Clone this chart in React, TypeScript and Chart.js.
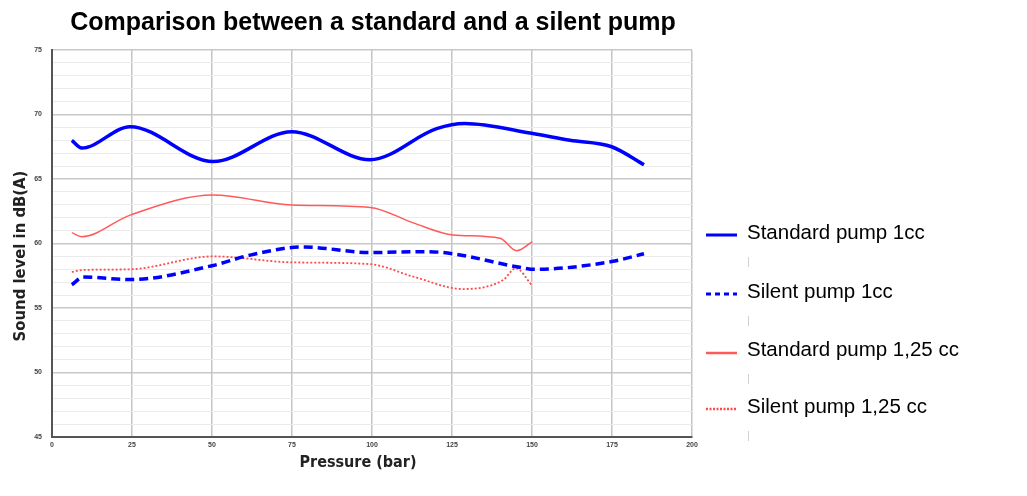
import React, { useEffect, useRef } from "react";
import { Chart, registerables } from "chart.js";

Chart.register(...registerables);

const chartTitle = "Comparison between a standard and a silent pump";
const xTitle = "Pressure (bar)";
const yTitle = "Sound level in dB(A)";

const seriesNames = [
  "Standard pump 1cc",
  "Silent pump 1cc",
  "Standard pump 1,25 cc",
  "Silent pump 1,25 cc",
];

const std1X = [6.2, 9.3, 24.4, 50.4, 74.9, 99.4, 120.2, 129, 149.9, 161.9, 174.9, 185];
const std1Y = [68.0, 67.4, 69.05, 66.35, 68.67, 66.5, 68.9, 69.3, 68.54, 68.0, 67.5, 66.1];

const sil1X = [6.2, 9.8, 24.4, 50.4, 61.9, 78.5, 99.4, 117, 125.4, 145.2, 150.9, 174.9, 185];
const sil1Y = [56.8, 57.4, 57.2, 58.3, 59.1, 59.73, 59.3, 59.37, 59.2, 58.2, 58.0, 58.6, 59.2];

const std125X = [6.2, 9.3, 24.4, 50.4, 74.9, 99.4, 112.9, 125.4, 140, 145.2, 150.1];
const std125Y = [60.84, 60.53, 62.2, 63.76, 62.98, 62.8, 61.6, 60.66, 60.4, 59.44, 60.14];

const sil125X = [6.2, 9.8, 24.4, 50.4, 74.9, 99.4, 112.9, 128.5, 141, 144.9, 150.1];
const sil125Y = [57.8, 57.95, 58.0, 59.0, 58.54, 58.4, 57.43, 56.47, 57.17, 58.08, 56.73];

const xMin = 0;
const xMax = 200;
const xStep = 25;
const yMin = 45;
const yMax = 75;

const toPoints = (xs: number[], ys: number[]) => xs.map((x, i) => ({ x, y: ys[i] }));

const colors = ["#0000ff", "#0000ff", "#ff5a5a", "#ff4a4a"];
const widths = [3.5, 3.5, 1.5, 1.8];
const dashes: number[][] = [[], [9, 5], [], [2, 2]];

const overlayPlugin = {
  id: "overlay",
  afterDraw(chart: any) {
    const ctx = chart.ctx as CanvasRenderingContext2D;
    const area = chart.chartArea;
    ctx.save();
    // title
    ctx.fillStyle = "#000";
    ctx.font = "bold 25px 'Liberation Sans', Arial, sans-serif";
    ctx.textAlign = "center";
    ctx.textBaseline = "middle";
    ctx.fillText(chartTitle, (area.left + area.right) / 2 + 1, 23);
    // x title
    ctx.fillStyle = "#222";
    ctx.font = "bold 16px 'DejaVu Sans Condensed', 'Liberation Sans', sans-serif";
    ctx.fillText(xTitle, 358, 463);
    // y title
    ctx.save();
    ctx.translate(21, 256);
    ctx.rotate(-Math.PI / 2);
    ctx.font = "bold 16.5px 'DejaVu Sans Condensed', 'Liberation Sans', sans-serif";
    ctx.fillText(yTitle, 0, 0);
    ctx.restore();
    // legend
    const lineY = [235, 294, 353, 409];
    const textY = [233, 292, 350, 407];
    ctx.textAlign = "left";
    ctx.font = "20.5px 'Liberation Sans', Arial, sans-serif";
    for (let i = 0; i < seriesNames.length; i++) {
      ctx.save();
      ctx.strokeStyle = colors[i];
      ctx.lineWidth = i < 2 ? 3 : 2.5;
      ctx.setLineDash(i === 1 ? [5, 4] : i === 3 ? [2, 1.5] : []);
      ctx.beginPath();
      ctx.moveTo(706, lineY[i]);
      ctx.lineTo(737, lineY[i]);
      ctx.stroke();
      ctx.restore();
      ctx.fillStyle = "#000";
      ctx.fillText(seriesNames[i], 747, textY[i]);
      ctx.strokeStyle = "#d0d0d0";
      ctx.lineWidth = 1;
      ctx.beginPath();
      ctx.moveTo(748.5, textY[i] + 24);
      ctx.lineTo(748.5, textY[i] + 34);
      ctx.stroke();
    }
    ctx.restore();
  },
};

export default function App() {
  const ref = useRef<HTMLCanvasElement | null>(null);
  useEffect(() => {
    if (!ref.current) return;
    const datasets = [
      toPoints(std1X, std1Y),
      toPoints(sil1X, sil1Y),
      toPoints(std125X, std125Y),
      toPoints(sil125X, sil125Y),
    ].map((data, i) => ({
      label: seriesNames[i],
      data,
      borderColor: colors[i],
      backgroundColor: colors[i],
      borderWidth: widths[i],
      borderDash: dashes[i],
      pointRadius: 0,
      fill: false,
      cubicInterpolationMode: "monotone" as const,
    }));
    const chart = new Chart(ref.current, {
      type: "line",
      data: { datasets },
      options: {
        animation: false,
        responsive: false,
        layout: { padding: { left: 0, top: 50, right: 335, bottom: 0 } },
        plugins: { legend: { display: false }, title: { display: false }, tooltip: { enabled: false } },
        scales: {
          x: {
            type: "linear",
            min: xMin,
            max: xMax,
            afterFit(scale: any) {
              scale.height = 59;
            },
            ticks: {
              stepSize: xStep,
              color: "#444",
              font: { size: 7, weight: "bold", family: "'Liberation Sans', sans-serif" },
              padding: 4,
              maxRotation: 0,
              autoSkip: false,
            },
            grid: {
              drawTicks: false,
              color: "#c4c4c4",
              lineWidth: 1.5,
            },
            border: { color: "#555", width: 2 },
          },
          y: {
            type: "linear",
            min: yMin,
            max: yMax,
            afterFit(scale: any) {
              scale.width = 52;
            },
            ticks: {
              stepSize: 1,
              autoSkip: false,
              color: "#444",
              font: { size: 7, weight: "bold", family: "'Liberation Sans', sans-serif" },
              padding: 10,
              callback: (v: any) => (Number(v) % 5 === 0 ? String(v) : ""),
            },
            grid: {
              drawTicks: false,
              color: (c: any) => (c.tick && c.tick.value % 5 === 0 ? "#c8c8c8" : "#ebebeb"),
              lineWidth: (c: any) => (c.tick && c.tick.value % 5 === 0 ? 1.5 : 1),
            },
            border: { color: "#555", width: 2 },
          },
        },
      },
      plugins: [overlayPlugin],
    });
    return () => chart.destroy();
  }, []);
  return (
    <div style={{ position: "fixed", left: 0, top: 0, width: 1027, height: 496, background: "#fff" }}>
      <canvas ref={ref} width={1027} height={496} style={{ width: 1027, height: 496, display: "block" }} />
    </div>
  );
}
